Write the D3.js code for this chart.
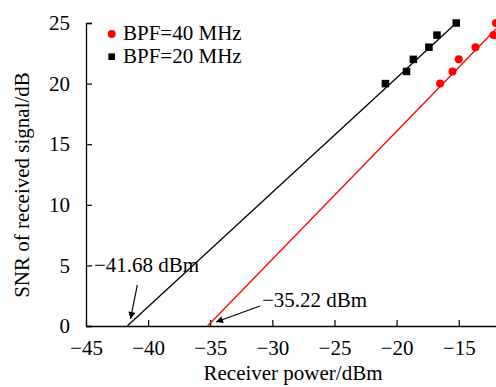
<!DOCTYPE html>
<html><head><meta charset="utf-8">
<script src="https://cdn.jsdelivr.net/npm/d3@7"></script>
<style>
html,body{margin:0;padding:0;background:#fff;}
svg text{font-family:"Liberation Serif","Times New Roman",serif;}
</style></head>
<body>
<svg id="chart" width="496" height="387"></svg>
<script>
// Data
const xTicks = [-45, -40, -35, -30, -25, -20, -15];
const yTicks = [0, 5, 10, 15, 20, 25];
const bpf40X = [-16.5, -15.5, -15.0, -13.65, -12.2, -12.0];
const bpf40Y = [20, 21, 22, 23, 24, 25];
const bpf20X = [-20.9, -19.2, -18.65, -17.4, -16.75, -15.2];
const bpf20Y = [20, 21, 22, 23, 24, 25];
const fit40 = [[-35.22, 0], [-12.0, 24.5]];
const fit20 = [[-41.68, 0], [-15.2, 25]];
const seriesNames = ["BPF=40 MHz", "BPF=20 MHz"];
const annotations = ["\u221241.68 dBm", "\u221235.22 dBm"];

const svg = d3.select("#chart");
const margin = {left: 86, right: 0, top: 23, bottom: 61};
const W = 496, H = 387;
const x = d3.scaleLinear().domain([-45, -12]).range([margin.left, W - margin.right]);
const y = d3.scaleLinear().domain([0, 25]).range([H - margin.bottom, margin.top]);
const fs = 21;

svg.append("defs").append("clipPath").attr("id", "clip")
  .append("rect").attr("x", margin.left).attr("y", 0).attr("width", W - margin.left).attr("height", H - margin.bottom);
svg.select("defs").append("marker").attr("id", "arrow")
  .attr("viewBox", "0 0 10 10").attr("refX", 10).attr("refY", 5)
  .attr("markerWidth", 9).attr("markerHeight", 7).attr("markerUnits", "userSpaceOnUse")
  .attr("orient", "auto")
  .append("path").attr("d", "M0,0 L10,5 L0,10 z").attr("fill", "#000");

// Axes
const xAxis = svg.append("g").attr("transform", `translate(0,${y(0)})`)
  .call(d3.axisBottom(x).tickValues(xTicks).tickSizeInner(-6).tickSizeOuter(0)
    .tickFormat(d => d < 0 ? "\u2212" + Math.abs(d) : d));
xAxis.select(".domain").attr("stroke", "#000").attr("stroke-width", 1.3);
xAxis.selectAll(".tick line").attr("stroke", "#000").attr("stroke-width", 1.2);
xAxis.selectAll(".tick text").attr("font-size", fs).attr("fill", "#000").attr("y", 14).attr("dy", "0.71em")
  .attr("font-family", '"Liberation Serif","Times New Roman",serif');

const yAxis = svg.append("g").attr("transform", `translate(${margin.left},0)`)
  .call(d3.axisLeft(y).tickValues(yTicks).tickSizeInner(-6).tickSizeOuter(-6));
yAxis.select(".domain").attr("stroke", "#000").attr("stroke-width", 1.3);
yAxis.selectAll(".tick line").attr("stroke", "#000").attr("stroke-width", 1.2);
yAxis.selectAll(".tick text").attr("font-size", fs).attr("fill", "#000").attr("x", -16)
  .attr("font-family", '"Liberation Serif","Times New Roman",serif');

// Fit lines
const line = d3.line().x(d => x(d[0])).y(d => y(d[1]));
const plot = svg.append("g").attr("clip-path", "url(#clip)");
plot.append("path").datum(fit20).attr("d", line).attr("stroke", "#000").attr("stroke-width", 1.3).attr("fill", "none");
plot.append("path").datum(fit40).attr("d", line).attr("stroke", "#ff0000").attr("stroke-width", 1.3).attr("fill", "none");

// Points
const sq = 7.5;
plot.selectAll(".sq").data(bpf20X.map((v, i) => [v, bpf20Y[i]])).enter().append("rect")
  .attr("x", d => x(d[0]) - sq / 2).attr("y", d => y(d[1]) - sq / 2)
  .attr("width", sq).attr("height", sq).attr("fill", "#000");
plot.selectAll(".ci").data(bpf40X.map((v, i) => [v, bpf40Y[i]])).enter().append("circle")
  .attr("cx", d => x(d[0])).attr("cy", d => y(d[1])).attr("r", 4).attr("fill", "#ff0000");

// Legend
const lg = svg.append("g");
lg.append("circle").attr("cx", 111.7).attr("cy", 34).attr("r", 4).attr("fill", "#ff0000");
lg.append("rect").attr("x", 111.7 - 3.3).attr("y", 56.7 - 3.3).attr("width", 6.6).attr("height", 6.6).attr("fill", "#000");
lg.append("text").attr("x", 123).attr("y", 40).attr("font-size", fs).text(seriesNames[0]);
lg.append("text").attr("x", 123).attr("y", 62.7).attr("font-size", fs).text(seriesNames[1]);

// Annotations
svg.append("text").attr("x", 94).attr("y", 272).attr("font-size", fs).text(annotations[0]);
svg.append("line").attr("x1", 137.3).attr("y1", 285).attr("x2", 130.5).attr("y2", 319)
  .attr("stroke", "#000").attr("stroke-width", 1.2).attr("marker-end", "url(#arrow)");
svg.append("text").attr("x", 262).attr("y", 306.5).attr("font-size", fs).text(annotations[1]);
svg.append("line").attr("x1", 260).attr("y1", 306).attr("x2", 216).attr("y2", 322)
  .attr("stroke", "#000").attr("stroke-width", 1.2).attr("marker-end", "url(#arrow)");

// Axis titles
svg.append("text").attr("x", 293).attr("y", 380).attr("text-anchor", "middle").attr("font-size", fs)
  .text("Receiver power/dBm");
svg.append("text").attr("transform", "translate(29,185) rotate(-90)").attr("text-anchor", "middle")
  .attr("font-size", fs).text("SNR of received signal/dB");
</script>
</body></html>
